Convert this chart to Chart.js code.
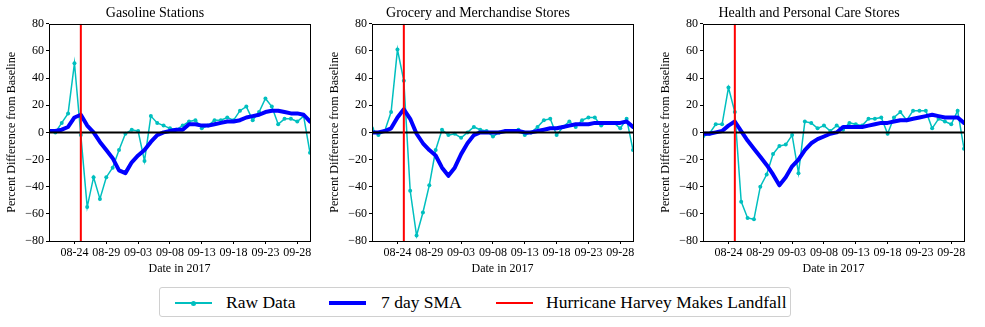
<!DOCTYPE html>
<html>
<head>
<meta charset="utf-8">
<script src="https://cdn.jsdelivr.net/npm/chart.js@4.4.0/dist/chart.umd.min.js"></script>
<style>
  body { margin: 0; background: #fff; }
  #wrap { position: relative; width: 985px; height: 327px; font-family: 'Liberation Serif', 'Times New Roman', serif; }
  canvas { position: absolute; top: 0; }
  #legend { position: absolute; left: 159px; top: 287px; width: 632px; height: 30px; border: 1px solid #d0d0d0; border-radius: 3px; box-sizing: border-box; }
  .sw { position: absolute; top: 14px; width: 37px; }
  .lbl { position: absolute; top: 3px; font-size: 17.5px; line-height: 22px; color: #000; white-space: nowrap; }
  .dot { position: absolute; left: 16px; top: -1.5px; width: 5px; height: 5px; border-radius: 50%; background: #00bfbf; }
</style>
</head>
<body>
<div id="wrap">
  <canvas id="gas" width="320" height="281" style="left:0px"></canvas>
  <canvas id="groc" width="320" height="281" style="left:323px"></canvas>
  <canvas id="health" width="320" height="281" style="left:654px"></canvas>
  <div id="legend">
    <div class="sw" style="left:15px; height:2px; background:#00bfbf; top:14px"><div class="dot"></div></div>
    <div class="lbl" style="left:66px">Raw Data</div>
    <div class="sw" style="left:169px; height:4px; background:#0000ff; top:13px"></div>
    <div class="lbl" style="left:221px">7 day SMA</div>
    <div class="sw" style="left:336px; height:2px; background:#ff0000; top:14px"></div>
    <div class="lbl" style="left:386px">Hurricane Harvey Makes Landfall</div>
  </div>
</div>
<script>
const dates = ['08-20','08-21','08-22','08-23','08-24','08-25','08-26','08-27','08-28','08-29','08-30','08-31',
  '09-01','09-02','09-03','09-04','09-05','09-06','09-07','09-08','09-09','09-10','09-11','09-12','09-13','09-14',
  '09-15','09-16','09-17','09-18','09-19','09-20','09-21','09-22','09-23','09-24','09-25','09-26','09-27','09-28',
  '09-29','09-30'];
const xTickLabels = ['08-24','08-29','09-03','09-08','09-13','09-18','09-23','09-28'];
const yTicks = [-80, -60, -40, -20, 0, 20, 40, 60, 80];
const landfall = '08-25';

const gasRaw = [1, 0, 7, 14, 51, -2, -55, -33, -49, -33, -26, -13, -1, 2, 1, -21, 12, 7, 5, 3, 2, 5, 8, 9, 3, 5,
  9, 9, 11, 9, 16, 19, 9, 15, 25, 19, 6, 10, 10, 8, 12, -15];
const gasSma = [1, 1, 2, 4, 11, 13, 5, 0, -7, -13, -19, -28, -30, -22, -17, -13, -7, -2, 0, 1, 2, 2, 6, 6, 5, 5,
  6, 7, 8, 8, 9, 11, 12, 13, 15, 16, 16, 15, 14, 14, 13, 8];

const grocRaw = [3, -2, 1, 15, 61, 38, -43, -76, -59, -39, -13, 2, -2, -1, -4, 0, 4, 2, 1, -3, 0, 1, 1, 2, -2, 0,
  4, 9, 10, -2, 4, 8, 4, 9, 11, 11, 5, 7, 7, 3, 10, -13];
const grocSma = [0, 0, 1, 3, 11, 17, 10, -1, -8, -13, -17, -26, -32, -26, -16, -8, -2, 0, 0, 0, 0, 1, 1, 1, 0, 0,
  1, 2, 3, 3, 4, 5, 6, 6, 6, 7, 7, 7, 7, 7, 8, 4];

const healthRaw = [-3, -1, 6, 6, 33, 15, -51, -63, -64, -40, -31, -16, -10, -9, -2, -30, 8, 7, 3, 5, 1, 5, 2, 7, 6, 5,
  10, 10, 11, -1, 11, 15, 9, 16, 16, 16, 3, 10, 8, 6, 16, -12];
const healthSma = [-1, -1, 0, 1, 5, 8, 1, -6, -12, -18, -24, -31, -39, -33, -25, -20, -13, -8, -5, -3, -1, 0, 4, 4, 4, 4,
  5, 6, 7, 7, 8, 9, 9, 10, 11, 12, 13, 12, 11, 11, 11, 7];

const FONT = "'Liberation Serif', 'Times New Roman', serif";

const framePlugin = {
  id: 'frame',
  afterDatasetsDraw(chart) {
    const {ctx, chartArea: a} = chart;
    ctx.save();
    ctx.strokeStyle = '#000';
    ctx.lineWidth = 1;
    ctx.strokeRect(Math.round(a.left) + 0.5, Math.round(a.top) + 0.5, Math.round(a.right - a.left), Math.round(a.bottom - a.top));
    ctx.restore();
  }
};

function createChart(id, title, raw, sma) {
  const xMax = dates.length - 1;
  const lf = dates.indexOf(landfall);
  const ctx = document.getElementById(id).getContext('2d');
  new Chart(ctx, {
    type: 'line',
    data: {
      datasets: [
        { label: 'Hurricane Harvey Makes Landfall', data: [{x: lf, y: -80}, {x: lf, y: 80}],
          borderColor: '#ff0000', borderWidth: 2, pointRadius: 0, order: 0 },
        { label: 'zero', data: [{x: 0, y: 0}, {x: xMax, y: 0}],
          borderColor: '#000', borderWidth: 2, pointRadius: 0, order: 1 },
        { label: '7 day SMA', data: sma.map((v, i) => ({x: i, y: v})),
          borderColor: '#0000ff', borderWidth: 4, pointRadius: 0, borderJoinStyle: 'round', borderCapStyle: 'round', order: 2 },
        { label: 'Raw Data', data: raw.map((v, i) => ({x: i, y: v})),
          borderColor: '#00bfbf', backgroundColor: '#00bfbf', borderWidth: 1.5,
          pointRadius: 2, pointBorderWidth: 0, pointBackgroundColor: '#00bfbf', order: 3 }
      ]
    },
    options: {
      responsive: false,
      animation: false,
      devicePixelRatio: 1,
      layout: { padding: { left: 0, right: 10, top: 0, bottom: 0 } },
      plugins: {
        legend: { display: false },
        tooltip: { enabled: false },
        title: { display: true, text: title, color: '#000',
          font: { family: FONT, size: 14, weight: 'normal' }, padding: { top: 5, bottom: 2 } }
      },
      scales: {
        x: {
          type: 'linear', min: 0, max: xMax,
          afterBuildTicks: axis => { axis.ticks = xTickLabels.map(l => ({ value: dates.indexOf(l) })); },
          afterFit: s => { s.height = 40; },
          grid: { drawOnChartArea: false, drawTicks: true, tickLength: 3, color: '#000' },
          border: { display: false },
          ticks: { autoSkip: false, maxRotation: 0, padding: 2, color: '#000',
            font: { family: FONT, size: 12 }, callback: v => dates[v] },
          title: { display: true, text: 'Date in 2017', color: '#000',
            font: { family: FONT, size: 12 }, padding: { top: 0, bottom: 5 } }
        },
        y: {
          min: yTicks[0], max: yTicks[yTicks.length - 1],
          afterBuildTicks: axis => { axis.ticks = yTicks.map(v => ({ value: v })); },
          afterFit: s => { s.width = 49; },
          grid: { drawOnChartArea: false, drawTicks: true, tickLength: 3, color: '#000' },
          border: { display: false },
          ticks: { padding: 2, color: '#000', font: { family: FONT, size: 12 },
            callback: v => v < 0 ? '\u2212' + Math.abs(v) : String(v) },
          title: { display: true, text: 'Percent Difference from Baseline', color: '#000',
            font: { family: FONT, size: 12 }, padding: { top: 5, bottom: 0 } }
        }
      }
    },
    plugins: [framePlugin]
  });
}

createChart('gas', 'Gasoline Stations', gasRaw, gasSma);
createChart('groc', 'Grocery and Merchandise Stores', grocRaw, grocSma);
createChart('health', 'Health and Personal Care Stores', healthRaw, healthSma);
</script>
</body>
</html>
